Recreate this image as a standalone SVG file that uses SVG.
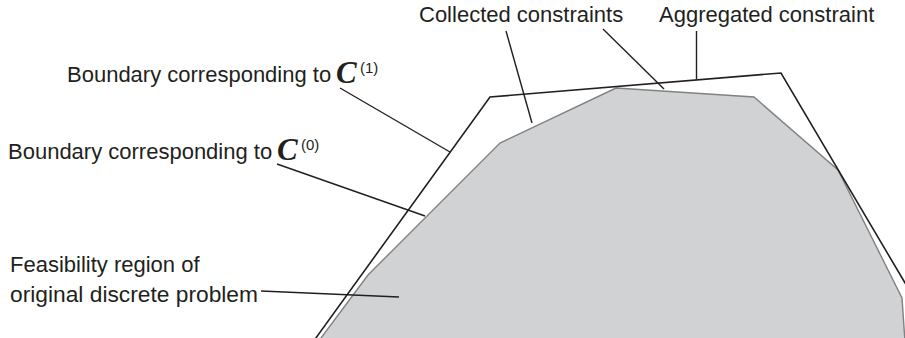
<svg xmlns="http://www.w3.org/2000/svg" width="905" height="338" viewBox="0 0 905 338">
<style>
.lbl{font-family:"Liberation Sans",Arial,sans-serif;font-size:22px;fill:#231f20}
.cal{font-family:"Liberation Serif","Times New Roman",serif;font-style:italic;font-weight:bold;font-size:31px;fill:#231f20}
.sup{font-family:"Liberation Sans",Arial,sans-serif;font-size:15px;fill:#231f20}
.lead{stroke:#231f20;stroke-width:1.4;fill:none}
</style>
<rect width="905" height="338" fill="#ffffff"/>
<g id="feasible-region">
<polygon points="318,342 368,275 500,143 616,88 754,97 838,170 902,298 905,342" fill="#d1d2d4" stroke="#808184" stroke-width="1.4" stroke-linejoin="miter"/>
</g>
<g id="boundary-c1">
<polyline points="313,342 490,97 781,73 908,288" fill="none" stroke="#231f20" stroke-width="1.6"/>
</g>
<g id="connectors">
<line class="lead" x1="506" y1="31" x2="532" y2="123"/>
<line class="lead" x1="603" y1="29" x2="664" y2="89"/>
<line class="lead" x1="696.5" y1="31" x2="696.5" y2="79"/>
<line class="lead" x1="340" y1="88" x2="450" y2="152"/>
<line class="lead" x1="277" y1="164" x2="425" y2="216"/>
<line class="lead" x1="261" y1="291" x2="399" y2="297"/>
</g>
<g id="label-collected">
<text class="lbl" x="419" y="22">Collected constraints</text>
</g>
<g id="label-aggregated">
<text class="lbl" x="659" y="22">Aggregated constraint</text>
</g>
<g id="label-boundary-c1">
<text class="lbl" x="67" y="82">Boundary corresponding to</text>
<text class="cal" x="336" y="83">C</text>
<text class="sup" x="360" y="73">(1)</text>
</g>
<g id="label-boundary-c0">
<text class="lbl" x="8" y="159">Boundary corresponding to</text>
<text class="cal" x="277" y="160">C</text>
<text class="sup" x="301" y="150">(0)</text>
</g>
<g id="label-feasibility">
<text class="lbl" x="10" y="272">Feasibility region of</text>
<text class="lbl" x="10" y="302" textLength="248" lengthAdjust="spacingAndGlyphs">original discrete problem</text>
</g>
</svg>
